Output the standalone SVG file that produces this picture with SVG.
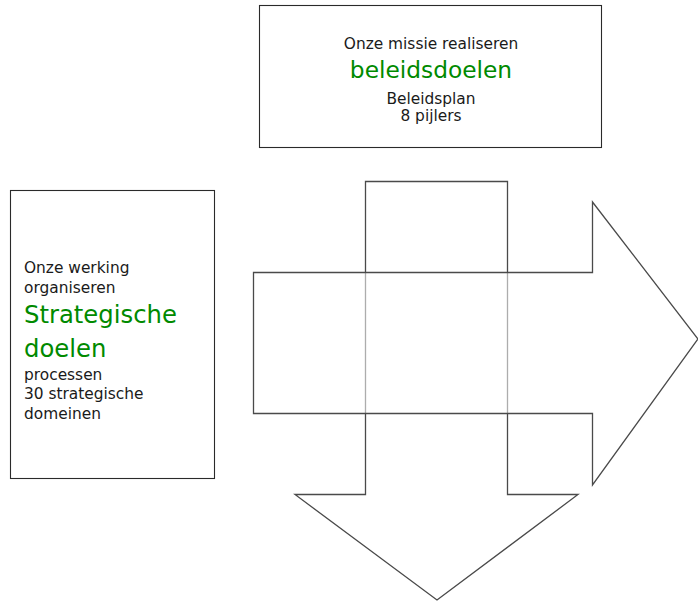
<svg xmlns="http://www.w3.org/2000/svg" width="698" height="602" viewBox="0 0 698 602">
<style>
.box{fill:#fff;stroke:#2a2a2a;stroke-width:1.1}
.arr{stroke:#4a4a4a;stroke-width:1.3;stroke-linejoin:miter}
.t{font-family:"DejaVu Sans","Liberation Sans",sans-serif;font-size:15.4px;fill:#1a1a1a}
.g{font-family:"DejaVu Sans","Liberation Sans",sans-serif;font-size:24px;fill:#008a00}
</style>
<rect width="698" height="602" fill="#fff"/>
<g id="top-box">
<rect class="box" x="259.5" y="5.5" width="342" height="142"/>
<text class="t" x="431" y="49" text-anchor="middle">Onze missie realiseren</text>
<text class="g" x="431" y="78" text-anchor="middle" style="font-size:23.3px">beleidsdoelen</text>
<text class="t" x="431" y="104" text-anchor="middle">Beleidsplan</text>
<text class="t" x="431" y="121" text-anchor="middle">8 pijlers</text>
</g>
<g id="left-box">
<rect class="box" x="10.5" y="190.5" width="204" height="288"/>
<text class="t" x="24" y="273">Onze werking</text>
<text class="t" x="24" y="293">organiseren</text>
<text class="g" x="24" y="323" style="font-size:24.3px">Strategische</text>
<text class="g" x="24" y="357" style="font-size:24.3px">doelen</text>
<text class="t" x="24" y="380">processen</text>
<text class="t" x="24" y="399">30 strategische</text>
<text class="t" x="24" y="419">domeinen</text>
</g>
<g id="connectors">
<polygon id="down-arrow" class="arr" fill="#fff" points="365.5,181.5 507.5,181.5 507.5,494.5 578,494.5 437,600 295,494.5 365.5,494.5"/>
<polygon id="right-arrow" class="arr" fill="#fff" fill-opacity="0.55" points="253.5,272.5 592.5,272.5 592.5,202 698,339 592.5,485 592.5,413.5 253.5,413.5"/>
</g>
</svg>
